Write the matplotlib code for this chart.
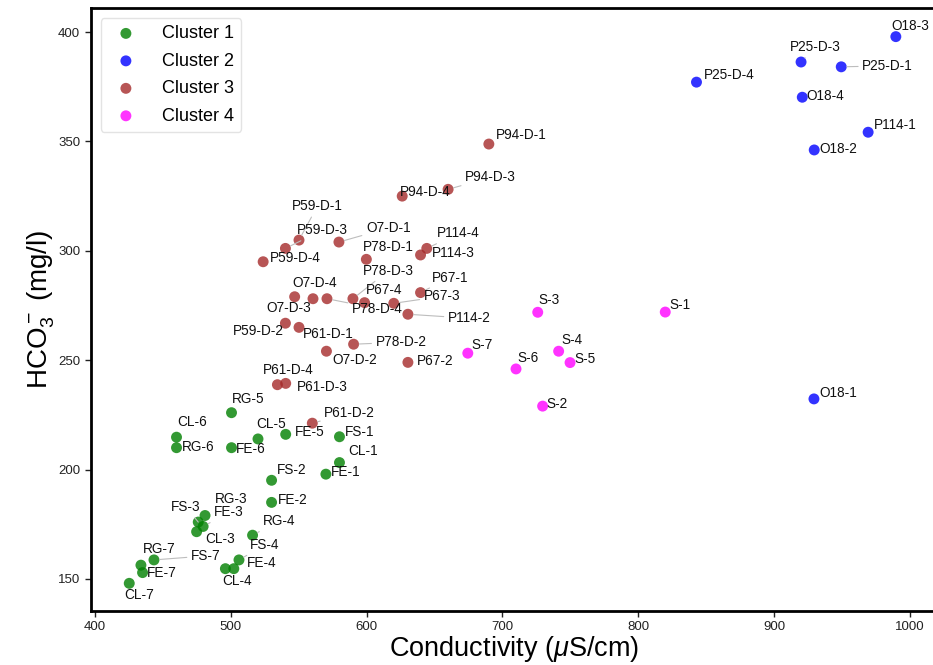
import matplotlib
matplotlib.use("Agg")
import matplotlib.pyplot as plt

plt.rcParams['font.family'] = ['Liberation Sans', 'DejaVu Sans']
plt.rcParams['mathtext.fontset'] = 'custom'
plt.rcParams['mathtext.rm'] = 'Liberation Sans'
plt.rcParams['mathtext.it'] = 'Liberation Sans:italic'

# ---------------- data ----------------
c1_names = ["RG-5", "CL-6", "RG-6", "FE-6", "CL-5", "FE-5", "FS-1", "CL-1", "FE-1",
            "FS-2", "FE-2", "RG-3", "FS-3", "FE-3", "CL-3", "RG-4", "FS-4", "FE-4",
            "CL-4", "RG-7", "FS-7", "FE-7", "CL-7"]
c1_x = [500.5, 460, 460, 500.5, 520, 540.4, 580, 580, 570,
        530, 530, 481, 476, 479.6, 474.8, 516, 506, 502.2,
        496, 433.8, 443.4, 435, 425.2]
c1_y = [226.0, 214.8, 210.0, 210.0, 214.0, 216.1, 215.0, 203.2, 197.9,
        195.1, 185.0, 179.0, 176.0, 174.0, 171.6, 170.0, 158.7, 154.7,
        154.7, 156.3, 158.7, 152.9, 148.0]

c2_names = ["O18-3", "P25-D-3", "P25-D-1", "P25-D-4", "O18-4", "P114-1", "O18-2", "O18-1"]
c2_x = [989.7, 919.9, 949.5, 842.9, 920.8, 969.3, 929.6, 929.4]
c2_y = [397.9, 386.3, 384.1, 377.1, 370.2, 354.2, 346.1, 232.3]

c3_names = ["P94-D-1", "P94-D-3", "P94-D-4", "P59-D-1", "P59-D-3", "P59-D-4", "O7-D-1",
            "P78-D-1", "P114-4", "P114-3", "P78-D-3", "O7-D-4", "P67-4", "P67-1",
            "P67-3", "O7-D-3", "P78-D-4", "P114-2", "P59-D-2", "P61-D-1", "P78-D-2",
            "O7-D-2", "P67-2", "P61-D-4", "P61-D-3", "P61-D-2"]
c3_x = [690, 660, 626.2, 550.2, 540.2, 523.8, 579.6,
        599.8, 644.3, 639.7, 589.9, 547, 598.5, 639.7,
        620, 560.5, 570.8, 630.4, 540.2, 550.2, 590.4,
        570.4, 630.4, 534.3, 540.4, 560]
c3_y = [348.8, 328.1, 325.0, 304.9, 301.1, 295.0, 304.0,
        296.1, 301.1, 298.1, 278.1, 279.0, 276.3, 280.9,
        276.0, 278.1, 278.1, 271.0, 266.9, 265.0, 257.3,
        254.1, 249.0, 238.8, 239.4, 221.2]

c4_names = ["S-1", "S-3", "S-4", "S-5", "S-6", "S-7", "S-2"]
c4_x = [819.9, 726, 741.4, 749.8, 710, 674.5, 729.6]
c4_y = [272.0, 271.9, 254.1, 248.9, 246.0, 253.2, 229.0]

cluster_labels = ["Cluster 1", "Cluster 2", "Cluster 3", "Cluster 4"]

# ---------------- layout (label offsets in pixels: dx right, dy up) ----------------
label_offsets = {
    "RG-5": (0, 14), "CL-6": (1, 15), "RG-6": (5, 1), "FE-6": (4, -1), "CL-5": (-2, 15),
    "FE-5": (9, 2), "FS-1": (5, 5), "CL-1": (9, 12), "FE-1": (5, 2), "FS-2": (5, 10),
    "FE-2": (6, 2), "RG-3": (10, 17), "FS-3": (-27, 15), "FE-3": (11, 14), "CL-3": (9, -7),
    "RG-4": (10, 14), "FS-4": (11, 15), "FE-4": (13, 6), "CL-4": (-3, -12), "RG-7": (2, 16),
    "FS-7": (37, 4), "FE-7": (4, 0), "CL-7": (-5, -12),
    "O18-3": (-4, 11), "P25-D-3": (-11, 15), "P25-D-1": (21, 1), "P25-D-4": (7, 7),
    "O18-4": (4, 1), "P114-1": (6, 7), "O18-2": (5, 1), "O18-1": (5, 6),
    "S-3": (1, 12), "S-4": (3, 11), "S-5": (4, 4), "S-6": (1, 11), "S-2": (4, 2),
    "S-7": (4, 8), "S-1": (4, 7),
    "P94-D-1": (7, 9), "P94-D-3": (17, 12), "P94-D-4": (-2, 4), "P59-D-1": (-7, 34),
    "P59-D-3": (11, 18), "P59-D-4": (7, 4), "O7-D-1": (27, 14), "P78-D-1": (-3, 12),
    "P114-4": (10, 15), "P114-3": (11, 2), "P78-D-3": (10, 28), "O7-D-4": (-2, 14),
    "P67-4": (1, 13), "P67-1": (11, 15), "P67-3": (30, 7), "O7-D-3": (-47, -9),
    "P78-D-4": (25, -10), "P114-2": (40, -4), "P59-D-2": (-53, -8), "P61-D-1": (4, -7),
    "P78-D-2": (22, 2), "O7-D-2": (6, -9), "P67-2": (9, 1), "P61-D-4": (-15, 15),
    "P61-D-3": (11, -4), "P61-D-2": (12, 10),
}
leader_lines = {"FS-7", "P25-D-1", "P94-D-3", "P59-D-1", "O7-D-1", "P114-4", "P78-D-3",
                "P67-1", "P67-3", "P78-D-4", "P114-2", "P78-D-2", "FS-3", "FE-3",
                "P25-D-3", "RG-4", "FS-4", "P61-D-2", "P59-D-3"}

colors = ["green", "blue", "brown", "magenta"]

fig = plt.figure(figsize=(9.33, 6.65), dpi=100)
ax = fig.add_axes([0.0972, 0.0817, 0.9078, 0.9063])

groups = [(c1_names, c1_x, c1_y), (c2_names, c2_x, c2_y),
          (c3_names, c3_x, c3_y), (c4_names, c4_x, c4_y)]

for (names, xs, ys), col, lab in zip(groups, colors, cluster_labels):
    ax.scatter(xs, ys, s=62, color=col, alpha=0.8, edgecolors='none', label=lab, zorder=3)

for names, xs, ys in groups:
    for n, x, y in zip(names, xs, ys):
        dx, dy = label_offsets[n]
        kw = {}
        if n in leader_lines:
            kw['arrowprops'] = dict(arrowstyle='-', color='#bdbdbd', lw=0.8,
                                    shrinkA=1, shrinkB=4)
        ax.annotate(n, (x, y), xytext=(dx, dy), textcoords='offset pixels',
                    ha='left', va='center', fontsize=9.8, color='#111111', zorder=4, **kw)

ax.set_xlim(396.8, 1020.5)
ax.set_ylim(135.5, 411)
ax.set_xticks([400, 500, 600, 700, 800, 900, 1000])
ax.set_yticks([150, 200, 250, 300, 350, 400])
ax.tick_params(labelsize=9.5, length=4, width=1, direction='out', colors='#222222')
for sp in ax.spines.values():
    sp.set_linewidth(2)
    sp.set_color('black')

ax.set_xlabel(r'Conductivity ($\mu$S/cm)', fontsize=19.5, labelpad=0.5)
ax.set_ylabel(r'HCO$_3^-$ (mg/l)', fontsize=20, labelpad=1)

leg = ax.legend(loc='upper left', fontsize=13, frameon=True, borderaxespad=0.55,
                handletextpad=1.0, labelspacing=0.58, scatterpoints=1)
leg.get_frame().set_edgecolor('#dddddd')
leg.get_frame().set_linewidth(1)

fig.savefig('out.png', dpi=100)
